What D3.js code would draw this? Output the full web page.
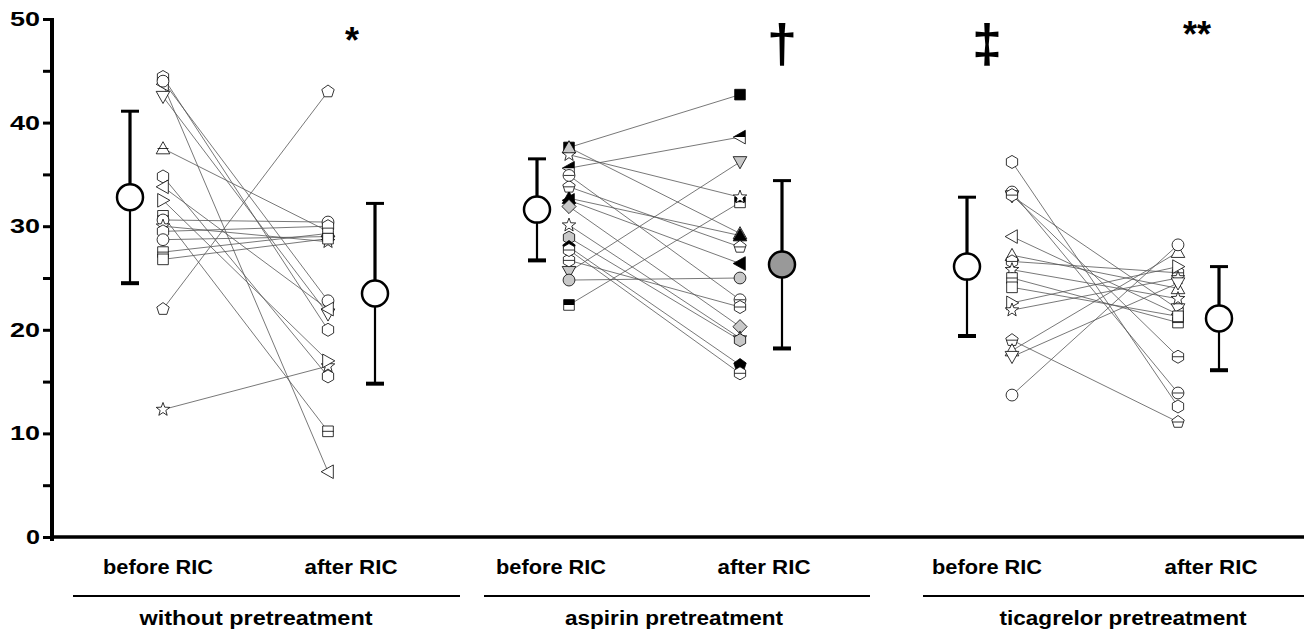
<!DOCTYPE html>
<html>
<head>
<meta charset="utf-8">
<script src="https://cdn.jsdelivr.net/npm/d3@7"></script>
<style>
  body { margin: 0; background: #fff; }
  svg { display: block; font-family: "Liberation Sans", Arial, sans-serif; font-weight: bold; }
</style>
</head>
<body>
<svg id="chart" width="1304" height="632"></svg>
<script>
// group / category labels
const groups = ['without pretreatment', 'aspirin pretreatment', 'ticagrelor pretreatment'];
const phases = ['before RIC', 'after RIC'];
const yTicks = [0, 10, 20, 30, 40, 50];
const marks = ['*', '\u2020', '\u2021', '**'];

// mean and SD per group [before, after]
const means = [[32.8, 23.5], [31.6, 26.3], [26.1, 21.1]];
const sds = [[8.3, 8.7], [4.9, 8.1], [6.7, 5.0]];
const meanFill = [['#fff', '#fff'], ['#fff', '#999'], ['#fff', '#fff']];

// individual subjects (symbol, fill, before, after)
const g1Sym = ['pent', 'star', 'tril', 'trid', 'hex', 'circ', 'triu', 'hex', 'tril', 'trir', 'sq', 'circ', 'star', 'hex', 'circ', 'sq', 'sq'];
const g1Fill = ['w', 'w', 'w', 'w', 'w', 'w', 'm', 'w', 'w', 'w', 'm', 'w', 'w', 'w', 'w', 'm', 'w'];
const g1Before = [22.0, 12.3, 43.7, 42.5, 44.4, 44.0, 37.5, 34.8, 33.8, 32.5, 31.0, 30.6, 30.0, 29.5, 28.7, 27.5, 26.8];
const g1After = [43.0, 16.5, 6.3, 21.5, 20.0, 22.8, 29.5, 15.5, 22.0, 17.0, 10.2, 30.4, 28.5, 30.0, 29.0, 29.3, 28.8];

const g2Sym = ['sq', 'tril', 'trid', 'sq', 'star', 'triu', 'triu', 'pent', 'tril', 'circ', 'circ', 'hex', 'diam', 'star', 'hex', 'pent', 'hex'];
const g2Fill = ['b', 'h', 'g', 'h', 'w', 'g', 'b', 'm', 'b', 'g', 'm', 'm', 'g', 'w', 'g', 'b', 'm'];
const g2Before = [37.6, 35.6, 25.6, 22.4, 36.9, 37.6, 32.7, 33.8, 32.5, 24.8, 34.9, 26.7, 31.9, 30.1, 28.9, 28.0, 27.7];
const g2After = [42.7, 38.6, 36.2, 32.3, 32.8, 29.3, 29.1, 28.0, 26.4, 25.0, 22.9, 22.2, 20.3, 19.2, 19.0, 16.6, 15.8];

const g3Sym = ['hex', 'circ', 'trid', 'hex', 'tril', 'triu', 'hex', 'star', 'sq', 'sq', 'trir', 'star', 'pent', 'triu', 'trid', 'circ'];
const g3Fill = ['w', 'm', 'w', 'm', 'w', 'w', 'm', 'w', 'm', 'w', 'w', 'w', 'm', 'w', 'w', 'w'];
const g3Before = [36.2, 33.3, 32.9, 33.0, 29.0, 27.2, 26.6, 25.8, 25.0, 24.1, 22.6, 21.9, 19.0, 18.0, 17.4, 13.7];
const g3After = [12.6, 13.9, 22.0, 17.4, 21.5, 24.0, 25.5, 23.0, 20.7, 21.3, 26.1, 25.0, 11.1, 27.5, 24.5, 28.2];

const subjects = [
  { sym: g1Sym, fill: g1Fill, before: g1Before, after: g1After },
  { sym: g2Sym, fill: g2Fill, before: g2Before, after: g2After },
  { sym: g3Sym, fill: g3Fill, before: g3Before, after: g3After },
];

// layout
const svg = d3.select('#chart');
const axisX = 52, axisY = 537, topY = 19;
const y = d3.scaleLinear().domain([0, 50]).range([axisY, topY]);
const colX = [[163, 328], [569, 740], [1012, 1178]];   // individual columns
const meanX = [[130, 375], [537, 782], [967, 1219]];   // mean columns
const labelX = [[158, 351], [551, 764], [987, 1211]];
const labelW = [110, 93];
const titleX = [256, 674, 1123];
const titleW = [233, 218, 247];
const groupLine = [[73, 460], [484, 870], [923, 1304]];
const markX = [352, 782, 987, 1197];

// custom polygon symbols
function poly(pts) {
  return {
    draw(ctx, size) {
      const r = Math.sqrt(size) / 2;
      pts.forEach((p, i) => (i ? ctx.lineTo(p[0] * r, p[1] * r) : ctx.moveTo(p[0] * r, p[1] * r)));
      ctx.closePath();
    }
  };
}
function regular(n, rot) {
  return d3.range(n).map(i => {
    const a = rot + i * 2 * Math.PI / n;
    return [Math.cos(a) * 1.1, Math.sin(a) * 1.1];
  });
}
const symTypes = {
  circ: { draw(ctx, size) { const r = Math.sqrt(size) / 2; ctx.moveTo(r, 0); ctx.arc(0, 0, r, 0, 2 * Math.PI); } },
  sq: poly([[-0.9, -0.9], [0.9, -0.9], [0.9, 0.9], [-0.9, 0.9]]),
  diam: poly([[0, -1.2], [1.2, 0], [0, 1.2], [-1.2, 0]]),
  triu: poly([[0, -1.15], [1.15, 0.9], [-1.15, 0.9]]),
  trid: poly([[0, 1.15], [1.15, -0.9], [-1.15, -0.9]]),
  tril: poly([[-1.15, 0], [0.9, -1.15], [0.9, 1.15]]),
  trir: poly([[1.15, 0], [-0.9, -1.15], [-0.9, 1.15]]),
  pent: poly(regular(5, -Math.PI / 2)),
  hex: poly(regular(6, -Math.PI / 2)),
  star: poly(d3.range(10).map(i => {
    const a = -Math.PI / 2 + i * Math.PI / 5, rr = i % 2 ? 0.5 : 1.2;
    return [Math.cos(a) * rr, Math.sin(a) * rr];
  })),
};
const fillCol = { w: '#fff', g: '#c8c8c8', b: '#000', h: '#fff', m: '#fff' };
const symbolPath = t => d3.symbol().type(symTypes[t]).size(140)();

svg.append('defs').append('clipPath').attr('id', 'tophalf')
  .append('rect').attr('x', -12).attr('y', -12).attr('width', 24).attr('height', 12);

// individual lines and markers
subjects.forEach((g, gi) => {
  const layer = svg.append('g');
  g.before.forEach((b, i) => {
    layer.append('line')
      .attr('x1', colX[gi][0]).attr('y1', y(b))
      .attr('x2', colX[gi][1]).attr('y2', y(g.after[i]))
      .attr('stroke', '#555').attr('stroke-width', 0.8);
  });
  g.before.forEach((b, i) => {
    [b, g.after[i]].forEach((v, k) => {
      const m = layer.append('g').attr('transform', `translate(${colX[gi][k]},${y(v)})`);
      const d = symbolPath(g.sym[i]);
      m.append('path').attr('d', d).attr('fill', fillCol[g.fill[i]]).attr('stroke', '#000').attr('stroke-width', 0.8);
      if (g.fill[i] === 'h') {
        m.append('path').attr('d', d).attr('fill', '#000').attr('clip-path', 'url(#tophalf)');
      }
      if (g.fill[i] === 'm') {
        m.append('line').attr('x1', -5.5).attr('x2', 5.5).attr('y1', 0).attr('y2', 0)
          .attr('stroke', '#000').attr('stroke-width', 0.8);
      }
    });
  });
});

// mean +/- SD
means.forEach((mm, gi) => {
  mm.forEach((mv, k) => {
    const cx = meanX[gi][k], s = sds[gi][k];
    const g = svg.append('g');
    g.append('line').attr('x1', cx).attr('x2', cx).attr('y1', y(mv)).attr('y2', y(mv + s))
      .attr('stroke', '#000').attr('stroke-width', 3.2);
    g.append('line').attr('x1', cx).attr('x2', cx).attr('y1', y(mv)).attr('y2', y(mv - s))
      .attr('stroke', '#000').attr('stroke-width', 2.2);
    g.append('line').attr('x1', cx - 9).attr('x2', cx + 9).attr('y1', y(mv + s)).attr('y2', y(mv + s))
      .attr('stroke', '#000').attr('stroke-width', 3);
    g.append('line').attr('x1', cx - 9).attr('x2', cx + 9).attr('y1', y(mv - s)).attr('y2', y(mv - s))
      .attr('stroke', '#000').attr('stroke-width', 4);
    g.append('circle').attr('cx', cx).attr('cy', y(mv)).attr('r', 13)
      .attr('fill', meanFill[gi][k]).attr('stroke', '#000').attr('stroke-width', 2.5);
  });
});

// y axis
const yAxis = d3.axisLeft(y).tickValues(d3.range(0, 51, 5)).tickSize(9)
  .tickFormat(d => (yTicks.includes(d) ? d : ''));
const ya = svg.append('g').attr('transform', `translate(${axisX},0)`).call(yAxis);
ya.select('.domain').remove();
ya.selectAll('.tick line').attr('stroke-width', 3);
ya.selectAll('.tick text').attr('font-size', 20).attr('font-weight', 'bold').attr('fill', '#000')
  .attr('font-family', '"Liberation Sans", Arial, sans-serif').attr('x', -12)
  .each(function (d) {
    if (yTicks.includes(d)) d3.select(this).attr('textLength', d === 0 ? 14 : 30).attr('lengthAdjust', 'spacingAndGlyphs');
  });
svg.append('line').attr('x1', axisX).attr('x2', axisX).attr('y1', topY - 1).attr('y2', axisY + 4)
  .attr('stroke', '#000').attr('stroke-width', 4);
svg.append('line').attr('x1', axisX - 2).attr('x2', 1304).attr('y1', axisY).attr('y2', axisY)
  .attr('stroke', '#000').attr('stroke-width', 3.5);

// category labels, group lines, group titles
groups.forEach((gname, gi) => {
  phases.forEach((p, k) => {
    svg.append('text').attr('x', labelX[gi][k]).attr('y', 574).attr('text-anchor', 'middle')
      .attr('font-size', 20).attr('textLength', labelW[k]).attr('lengthAdjust', 'spacingAndGlyphs').text(p);
  });
  svg.append('line').attr('x1', groupLine[gi][0]).attr('x2', groupLine[gi][1])
    .attr('y1', 596).attr('y2', 596).attr('stroke', '#000').attr('stroke-width', 2);
  svg.append('text').attr('x', titleX[gi]).attr('y', 625)
    .attr('text-anchor', 'middle').attr('font-size', 20)
    .attr('textLength', titleW[gi]).attr('lengthAdjust', 'spacingAndGlyphs').text(gname);
});

// significance marks
svg.append('text').attr('x', markX[0]).attr('y', 53).attr('text-anchor', 'middle').attr('font-size', 36).text(marks[0]);
svg.append('text').attr('x', markX[1]).attr('y', 62).attr('text-anchor', 'middle').attr('font-size', 54).text(marks[1]);
svg.append('text').attr('x', markX[2]).attr('y', 62).attr('text-anchor', 'middle').attr('font-size', 54).text(marks[2]);
svg.append('text').attr('x', markX[3]).attr('y', 47).attr('text-anchor', 'middle').attr('font-size', 36).text(marks[3]);
</script>
</body>
</html>
